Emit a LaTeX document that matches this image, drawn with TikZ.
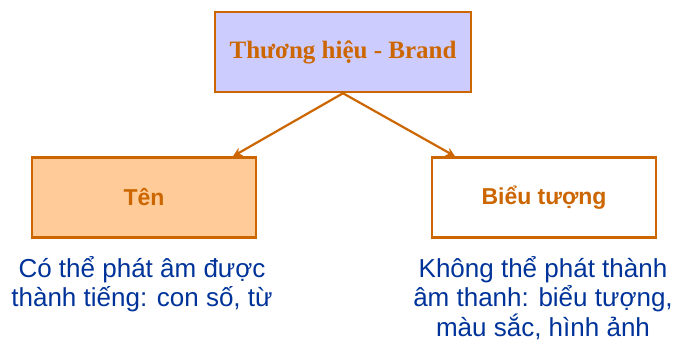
\documentclass[tikz,border=0pt]{standalone}
\usepackage{fontspec}
\setmainfont{Liberation Sans}
\newfontfamily\serifbold{Liberation Serif}
\usetikzlibrary{arrows.meta}
\definecolor{brorange}{HTML}{CC6600}
\definecolor{brlav}{HTML}{CCCCFF}
\definecolor{brpeach}{HTML}{FFCC99}
\definecolor{brblue}{HTML}{003399}
\begin{document}
\begin{tikzpicture}[x=1pt,y=-1pt,
  boxstyle/.style={draw=brorange,line width=2.5pt,minimum width=224pt,minimum height=80pt,inner sep=0pt,text=brorange,font=\bfseries\fontsize{23}{27}\selectfont},
  arrowstyle/.style={draw=brorange,line width=2.2pt,-{Stealth[length=9pt,width=9pt]}},
  notestyle/.style={text=brblue,align=center,font=\fontsize{26}{29.5}\selectfont,inner sep=0pt}]
\useasboundingbox (0,0) rectangle (677,343);
\node[boxstyle,fill=brlav,minimum width=256pt,font=\serifbold\bfseries\fontsize{25}{29}\selectfont] (brand) at (343,52) {Thương hiệu - Brand};
\node[boxstyle,fill=brpeach] (ten) at (144,197.5) {Tên};
\node[boxstyle,fill=white] (bieu) at (544,197.5) {Biểu tượng};
\draw[arrowstyle] (brand.south) -- (ten.north -| 233,0);
\draw[arrowstyle] (brand.south) -- (bieu.north -| 455,0);
\node[notestyle,anchor=north] (tennote) at (142,256) {Có thể phát âm được\\thành tiếng: con số, từ};
\node[notestyle,anchor=north] (bieunote) at (543,256) {Không thể phát thành\\âm thanh: biểu tượng,\\màu sắc, hình ảnh};
\end{tikzpicture}
\end{document}
